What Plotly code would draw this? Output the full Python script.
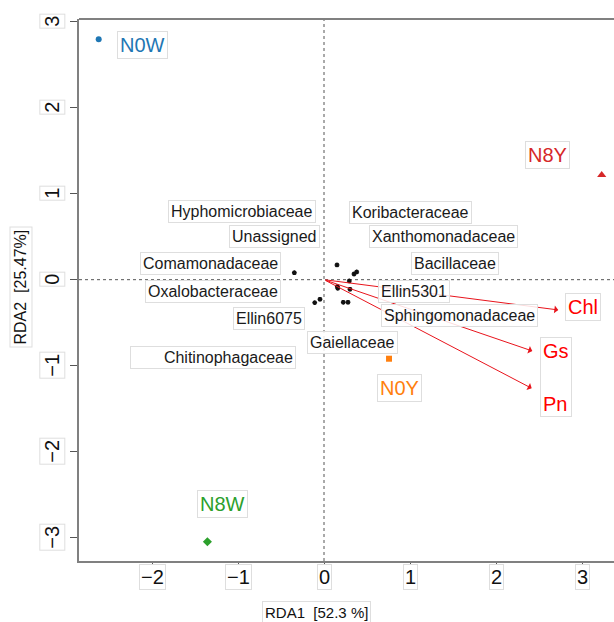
import plotly.graph_objects as go

# ---------------- data ----------------
x_ticks = [-2, -1, 0, 1, 2, 3]
y_ticks = [-3, -2, -1, 0, 1, 2, 3]
tick_text = {v: ("\u2212" + str(-v) if v < 0 else str(v)) for v in range(-3, 4)}

x_title = "RDA1  [52.3 %]"
y_title = "RDA2  [25.47%]"

sample_names = ["N0W", "N8Y", "N0Y", "N8W"]
sample_x = [-2.620, 3.229, 0.756, -1.356]
sample_y = [2.795, 1.217, -0.919, -3.047]
sample_label_x = [-2.105, 2.599, 0.872, -1.181]
sample_label_y = [2.723, 1.444, -1.265, -2.605]
sample_colors = ["#1f77b4", "#d62728", "#ff7f0e", "#2ca02c"]
sample_symbols = ["circle", "triangle-up", "square", "diamond"]

species_x = [-0.345, 0.151, 0.349, 0.380, 0.294, 0.155, 0.160, 0.302, -0.047, -0.108, 0.224, 0.279]
species_y = [0.081, 0.171, 0.066, 0.090, -0.015, -0.080, -0.100, -0.112, -0.228, -0.267, -0.263, -0.263]

species_names = ["Hyphomicrobiaceae", "Unassigned", "Comamonadaceae", "Oxalobacteraceae",
                 "Ellin6075", "Chitinophagaceae", "Koribacteraceae", "Xanthomonadaceae",
                 "Bacillaceae", "Ellin5301", "Sphingomonadaceae", "Gaiellaceae"]
species_label_x = [-0.956, -0.570, -1.320, -1.291, -0.642, -1.291, 1.000, 1.392, 1.520, 1.044, 1.578, 0.326]
species_label_y = [0.787, 0.506, 0.191, -0.141, -0.457, -0.899, 0.779, 0.502, 0.183, -0.143, -0.414, -0.736]

env_names = ["Chl", "Gs", "Pn"]
env_x = [2.724, 2.422, 2.415]
env_y = [-0.352, -0.829, -1.263]
env_label_x = [3.012, 2.692, 2.683]
env_label_y = [-0.323, -0.825, -1.440]

# ---------------- figure ----------------
X_RANGE = [-2.849, 3.372]
Y_RANGE = [-3.271, 3.031]
BOX = "#dedede"
AX = "#808080"
FONT = "Liberation Sans, Arial, sans-serif"

fig = go.Figure()

# species points
fig.add_trace(go.Scatter(
    x=species_x, y=species_y, mode="markers",
    marker=dict(symbol="asterisk-open", size=4, color="#111", line=dict(color="#111", width=1.4)),
    hoverinfo="skip", showlegend=False))

# sample points
for n, x, y, c, s in zip(sample_names, sample_x, sample_y, sample_colors, sample_symbols):
    size = {"circle": 6, "triangle-up": 8, "square": 6, "diamond": 7}[s]
    fig.add_trace(go.Scatter(x=[x], y=[y], mode="markers", name=n,
                             marker=dict(symbol=s, size=size, color=c),
                             showlegend=False, cliponaxis=False))

annotations = []

# env arrows
for x, y in zip(env_x, env_y):
    annotations.append(dict(x=x, y=y, ax=0, ay=0, xref="x", yref="y", axref="x", ayref="y",
                            text="", showarrow=True, arrowhead=1, arrowsize=1.3,
                            arrowwidth=1, arrowcolor="#e8141c", standoff=0, startstandoff=0))

# species labels
for n, x, y in zip(species_names, species_label_x, species_label_y):
    a = dict(x=x, y=y, xref="x", yref="y", text=n, showarrow=False,
             xanchor="center", yanchor="middle",
             font=dict(family=FONT, size=16, color="#1a1a1a"),
             bgcolor="rgba(255,255,255,0.85)", bordercolor=BOX, borderwidth=1, borderpad=2)
    if n == "Chitinophagaceae":
        a.update(width=160, align="right")
    annotations.append(a)

# sample labels
for n, x, y, c in zip(sample_names, sample_label_x, sample_label_y, sample_colors):
    annotations.append(dict(x=x, y=y, xref="x", yref="y", text=n, showarrow=False,
                            xanchor="center", yanchor="middle",
                            font=dict(family=FONT, size=20, color=c),
                            bgcolor="white", bordercolor=BOX, borderwidth=1, borderpad=2))

# env labels
for n, x, y in zip(env_names, env_label_x, env_label_y):
    a = dict(x=x, y=y, xref="x", yref="y", text=n, showarrow=False,
             xanchor="center", yanchor="middle",
             font=dict(family=FONT, size=20, color="#ff0000"),
             bordercolor=BOX, borderwidth=1, borderpad=2)
    if n == "Gs":
        a.update(y=-0.663, yanchor="top", height=74, valign="top")
    elif n == "Pn":
        a.update(borderwidth=0, bordercolor="rgba(0,0,0,0)")
    else:
        a.update(bgcolor="white")
    annotations.append(a)

# tick labels
for v in x_ticks:
    annotations.append(dict(x=v, y=0, xref="x", yref="paper", text=tick_text[v], showarrow=False,
                            xanchor="center", yanchor="middle", yshift=-16,
                            font=dict(family=FONT, size=20, color="#111"),
                            bgcolor="white", bordercolor=BOX, borderwidth=1, borderpad=1))
for v in y_ticks:
    annotations.append(dict(x=0, y=v, xref="paper", yref="y", text=tick_text[v], showarrow=False,
                            xanchor="center", yanchor="middle", xshift=-27, textangle=-90,
                            font=dict(family=FONT, size=20, color="#111"),
                            bgcolor="white", bordercolor=BOX, borderwidth=1, borderpad=1))

# axis titles
annotations.append(dict(x=(316.7 - 79) / 535, y=0, xref="paper", yref="paper", text=x_title,
                        showarrow=False, xanchor="center", yanchor="middle", yshift=-51,
                        font=dict(family=FONT, size=15, color="#111"),
                        bordercolor=BOX, borderwidth=1, borderpad=2))
annotations.append(dict(x=0, y=0.5055, xref="paper", yref="paper", text=y_title,
                        showarrow=False, xanchor="center", yanchor="middle",
                        xshift=-58.5, textangle=-90,
                        font=dict(family=FONT, size=16, color="#111"),
                        bordercolor=BOX, borderwidth=1, borderpad=2))

shapes = [
    dict(type="line", xref="x", yref="paper", x0=0, x1=0, y0=0, y1=1,
         line=dict(color="#555", width=1, dash="dot"), layer="below"),
    dict(type="line", xref="paper", yref="y", x0=0, x1=1, y0=0, y1=0,
         line=dict(color="#555", width=1, dash="dot"), layer="below"),
    dict(type="line", xref="paper", yref="paper", x0=0, x1=1, y0=1, y1=1,
         line=dict(color=AX, width=2)),
]

fig.update_layout(
    width=614, height=622,
    margin=dict(l=79, r=0, t=19, b=61),
    plot_bgcolor="white", paper_bgcolor="white",
    showlegend=False,
    annotations=annotations, shapes=shapes,
    xaxis=dict(range=X_RANGE, showgrid=False, zeroline=False, showline=True, linecolor=AX,
               linewidth=2, ticks="outside", ticklen=7, tickcolor="#555", tickwidth=1,
               tickvals=x_ticks, showticklabels=False, fixedrange=True),
    yaxis=dict(range=Y_RANGE, showgrid=False, zeroline=False, showline=True, linecolor=AX,
               linewidth=2, ticks="outside", ticklen=7, tickcolor="#555", tickwidth=1,
               tickvals=y_ticks, showticklabels=False, fixedrange=True),
)

fig.write_html("out.html", config={"displayModeBar": False},
               post_script="document.body.style.margin='0';document.body.style.overflow='hidden';")
